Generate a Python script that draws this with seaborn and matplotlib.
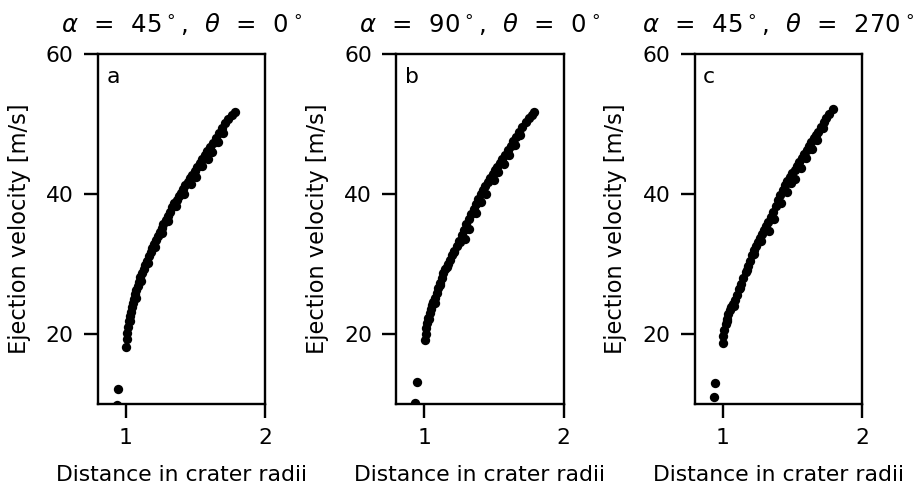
import matplotlib
matplotlib.use("Agg")
import matplotlib.pyplot as plt
import seaborn as sns
import pandas as pd

# ---------------- data ----------------
titles = [r'$\alpha\ \,=\ \,45^\circ,\ \,\theta\ \,=\ \,0^\circ$',
          r'$\alpha\ \,=\ \,90^\circ,\ \,\theta\ \,=\ \,0^\circ$',
          r'$\alpha\ \,=\ \,45^\circ,\ \,\theta\ \,=\ \,270^\circ$']
panel_letters = ["a", "b", "c"]
x_label = "Distance in crater radii"
y_label = "Ejection velocity [m/s]"
x_ticks = [1, 2]
y_ticks = [20, 40, 60]

dist_a = [1.000, 1.005, 1.010, 1.015, 1.020, 1.028, 1.035, 1.042, 1.050, 1.058,
          1.066, 1.075, 1.085, 1.095, 1.105, 1.117, 1.128, 1.140, 1.152, 1.165,
          1.178, 1.190, 1.202, 1.214, 1.228, 1.242, 1.256, 1.270, 1.285, 1.300,
          1.316, 1.333, 1.348, 1.364, 1.380, 1.396, 1.412, 1.428, 1.445, 1.460,
          1.478, 1.495, 1.512, 1.530, 1.548, 1.565, 1.585, 1.605, 1.625, 1.645,
          1.669, 1.690, 1.712, 1.735, 1.760, 1.784,
          1.030, 1.070, 1.110, 1.160, 1.210, 1.260,
          1.300, 1.360, 1.420, 1.470, 1.500, 1.550, 1.590, 1.620, 1.660, 1.700,
          0.942, 0.933]
vel_a = [18.2, 19.3, 20.2, 21.0, 21.8, 22.6, 23.2, 23.8, 24.4, 25.0,
         25.7, 26.3, 26.9, 27.5, 28.1, 28.7, 29.3, 29.9, 30.5, 31.1,
         31.7, 32.3, 32.9, 33.4, 34.0, 34.6, 35.2, 35.8, 36.3, 36.9,
         37.5, 38.2, 38.7, 39.2, 39.7, 40.2, 40.8, 41.3, 41.8, 42.3,
         42.8, 43.3, 43.9, 44.5, 45.0, 45.6, 46.1, 46.7, 47.3, 48.0,
         48.7, 49.4, 50.1, 50.7, 51.3, 51.8,
         21.8, 25.2, 27.6, 30.2, 32.5, 34.5,
         36.2, 38.3, 40.0, 41.5, 42.5, 44.0, 45.0, 46.0, 47.5, 48.8,
         12.1, 9.9]

dist_b = [1.005, 1.010, 1.016, 1.022, 1.030, 1.038, 1.046, 1.055, 1.065, 1.077,
          1.089, 1.100, 1.112, 1.125, 1.138, 1.152, 1.168, 1.184, 1.200, 1.216,
          1.232, 1.250, 1.268, 1.285, 1.303, 1.320, 1.338, 1.355, 1.372, 1.388,
          1.405, 1.421, 1.438, 1.455, 1.472, 1.490, 1.508, 1.525, 1.541, 1.560,
          1.580, 1.600, 1.620, 1.640, 1.660, 1.682, 1.705, 1.728, 1.750, 1.770,
          1.791,
          1.035, 1.075, 1.115, 1.165, 1.215, 1.255,
          1.290, 1.320, 1.370, 1.410, 1.440, 1.500, 1.530, 1.570, 1.610, 1.650,
          1.690,
          0.948, 0.934]
vel_b = [19.1, 20.0, 20.9, 21.6, 22.3, 23.0, 23.6, 24.1, 24.6, 25.2,
         25.9, 26.6, 27.3, 28.0, 28.7, 29.3, 30.0, 30.6, 31.3, 31.9,
         32.6, 33.3, 34.1, 34.9, 35.8, 36.5, 37.2, 37.9, 38.6, 39.3,
         40.0, 40.6, 41.2, 41.8, 42.3, 42.9, 43.4, 43.9, 44.4, 45.0,
         45.6, 46.3, 46.9, 47.6, 48.2, 48.9, 49.6, 50.3, 50.9, 51.3,
         51.8,
         22.2, 24.5, 27.0, 29.6, 31.8, 33.2,
         33.6, 35.0, 37.3, 38.9, 40.0, 42.0, 43.1, 44.3, 45.6, 47.0,
         48.4,
         13.1, 10.1]

dist_c = [1.000, 1.006, 1.013, 1.021, 1.030, 1.040, 1.051, 1.063, 1.077, 1.091,
          1.105, 1.120, 1.135, 1.150, 1.165, 1.180, 1.195, 1.210, 1.225, 1.240,
          1.255, 1.270, 1.285, 1.300, 1.315, 1.329, 1.345, 1.362, 1.380, 1.397,
          1.414, 1.431, 1.448, 1.465, 1.482, 1.499, 1.516, 1.533, 1.550, 1.567,
          1.585, 1.603, 1.620, 1.637, 1.655, 1.672, 1.686, 1.705, 1.725, 1.745,
          1.765, 1.789,
          1.035, 1.080, 1.125, 1.175, 1.225, 1.275,
          1.330, 1.370, 1.420, 1.460, 1.490, 1.520, 1.560, 1.600, 1.640, 1.680,
          1.720,
          0.948, 0.936]
vel_c = [18.7, 19.7, 20.6, 21.4, 22.1, 22.8, 23.4, 23.9, 24.3, 24.8,
         25.6, 26.4, 27.2, 28.0, 28.9, 29.7, 30.5, 31.3, 32.0, 32.6,
         33.2, 33.8, 34.3, 34.9, 35.4, 36.0, 36.7, 37.5, 38.3, 39.1,
         39.9, 40.6, 41.3, 41.9, 42.5, 43.0, 43.5, 44.0, 44.6, 45.1,
         45.7, 46.3, 46.9, 47.4, 48.0, 48.5, 48.9, 49.6, 50.3, 50.9,
         51.5, 52.1,
         21.8, 24.0, 26.6, 29.2, 31.5, 33.3,
         34.8, 36.5, 38.8, 40.3, 41.6, 42.2, 43.8, 45.2, 46.5, 47.8,
         49.4,
         13.0, 11.0]

# ---------------- styling ----------------
sns.set_theme(style="ticks", context="talk",
              rc={"axes.edgecolor": "black", "xtick.color": "black",
                  "ytick.color": "black", "text.color": "black",
                  "axes.labelcolor": "black"})
plt.rcParams["font.family"] = ["DejaVu Sans"]
plt.rcParams["mathtext.fontset"] = "dejavusans"

DPI = 90
fig, axes = plt.subplots(1, 3, figsize=(913 / DPI, 488 / DPI), dpi=DPI)
fig.subplots_adjust(left=0.1073, right=0.9441, bottom=0.172, top=0.889,
                    wspace=0.784)

panels = [(dist_a, vel_a), (dist_b, vel_b), (dist_c, vel_c)]
for ax, (d, v), title, letter in zip(axes, panels, titles, panel_letters):
    df = pd.DataFrame({"dist": d, "vel": v})
    sns.scatterplot(data=df, x="dist", y="vel", ax=ax, color="black",
                    s=56, linewidth=0, legend=False, clip_on=True)
    ax.set_xlim(0.8, 2.0)
    ax.set_ylim(10, 60)
    ax.set_xticks(x_ticks)
    ax.set_yticks(y_ticks)
    ax.tick_params(labelsize=17.5, length=11, width=1.9, pad=8.5)
    for sp in ax.spines.values():
        sp.set_linewidth(1.9)
    ax.set_xlabel(x_label, fontsize=17.5, labelpad=13)
    ax.set_ylabel(y_label, fontsize=18, labelpad=12)
    ax.set_title(title, fontsize=19.5, pad=18)
    ax.text(0.05, 0.962, letter, transform=ax.transAxes, fontsize=17.5,
            ha="left", va="top")

fig.savefig("out.png", dpi=DPI)
